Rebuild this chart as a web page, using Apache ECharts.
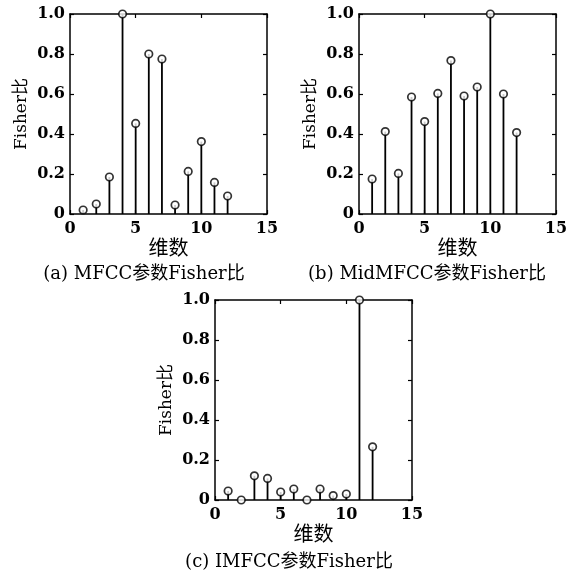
<!DOCTYPE html>
<html>
<head>
<meta charset="utf-8">
<script src="https://cdn.jsdelivr.net/npm/echarts@6/dist/echarts.min.js"></script>
<style>
html,body{margin:0;padding:0;background:#fff;}
#chart{width:575px;height:578px;}
</style>
</head>
<body>
<div id="chart"></div>
<script>
// Data
var dims = [1, 2, 3, 4, 5, 6, 7, 8, 9, 10, 11, 12];
var mfcc = [0.02, 0.05, 0.185, 1.0, 0.453, 0.80, 0.775, 0.045, 0.213, 0.362, 0.158, 0.09];
var midMfcc = [0.175, 0.412, 0.203, 0.585, 0.462, 0.603, 0.767, 0.59, 0.635, 1.0, 0.60, 0.407];
var imfcc = [0.045, 0.0, 0.121, 0.108, 0.04, 0.055, 0.0, 0.055, 0.022, 0.03, 1.0, 0.266];
var xTicks = [0, 5, 10, 15];
var yTicks = [0, 0.2, 0.4, 0.6, 0.8, 1.0];
var captions = ['(a) MFCC参数Fisher比', '(b) MidMFCC参数Fisher比', '(c) IMFCC参数Fisher比'];
var xName = '维数';
var yName = 'Fisher比';

var FONT = '"DejaVu Serif", "Noto Sans CJK SC", serif';
var panels = [
  {values: mfcc, left: 70, top: 14, capX: 144, capY: 274},
  {values: midMfcc, left: 359, top: 14, capX: 427, capY: 274},
  {values: imfcc, left: 215, top: 300, capX: 289, capY: 562}
];

var grids = [], xAxes = [], yAxes = [], series = [], graphics = [];
panels.forEach(function (p, i) {
  grids.push({left: p.left, top: p.top, width: 197, height: 200});
  var axLine = {show: true, onZero: false, lineStyle: {color: '#000', width: 1.5}};
  var tick = {show: true, inside: true, length: 4, lineStyle: {color: '#000', width: 1.2}};
  var tickFont = {color: '#000', fontFamily: FONT, fontSize: 16, fontWeight: 'bold'};
  xAxes.push({
    type: 'value', gridIndex: i, position: 'bottom',
    min: xTicks[0], max: xTicks[xTicks.length - 1], interval: xTicks[1] - xTicks[0],
    axisLine: axLine, axisTick: tick, splitLine: {show: false},
    axisLabel: Object.assign({margin: 7}, tickFont),
    name: xName, nameLocation: 'middle', nameGap: 26,
    nameTextStyle: {color: '#000', fontFamily: FONT, fontSize: 20}
  });
  xAxes.push({
    type: 'value', gridIndex: i, position: 'top',
    min: xTicks[0], max: xTicks[xTicks.length - 1], interval: xTicks[1] - xTicks[0],
    axisLine: axLine, axisTick: tick, splitLine: {show: false}, axisLabel: {show: false}
  });
  yAxes.push({
    type: 'value', gridIndex: i, position: 'left',
    min: yTicks[0], max: yTicks[yTicks.length - 1], interval: 0.2,
    axisLine: axLine, axisTick: tick, splitLine: {show: false},
    axisLabel: Object.assign({margin: 5,
      formatter: function (v) { return v === 0 ? '0' : v.toFixed(1); }}, tickFont),
    name: yName, nameLocation: 'middle', nameGap: 40, nameRotate: 90,
    nameTextStyle: {color: '#000', fontFamily: FONT, fontSize: 17}
  });
  yAxes.push({
    type: 'value', gridIndex: i, position: 'right',
    min: yTicks[0], max: yTicks[yTicks.length - 1], interval: 0.2,
    axisLine: axLine, axisTick: tick, splitLine: {show: false}, axisLabel: {show: false}
  });
  var pts = dims.map(function (d, k) { return [d, p.values[k]]; });
  series.push({
    type: 'bar', xAxisIndex: 2 * i, yAxisIndex: 2 * i, data: pts,
    barWidth: 1.8, itemStyle: {color: '#000'}, silent: true, animation: false
  });
  series.push({
    type: 'scatter', xAxisIndex: 2 * i, yAxisIndex: 2 * i, data: pts,
    symbol: 'circle', symbolSize: 7.5,
    itemStyle: {color: '#fff', borderColor: '#000', borderWidth: 1.7},
    silent: true, animation: false, z: 5
  });
  graphics.push({
    type: 'text', x: p.capX, y: p.capY,
    style: {text: captions[i], fill: '#000', font: '18px ' + FONT,
      textAlign: 'center', textVerticalAlign: 'middle'}
  });
});

var chart = echarts.init(document.getElementById('chart'));
chart.setOption({
  backgroundColor: '#fff',
  animation: false,
  grid: grids,
  xAxis: xAxes,
  yAxis: yAxes,
  series: series,
  graphic: graphics
});
</script>
</body>
</html>
